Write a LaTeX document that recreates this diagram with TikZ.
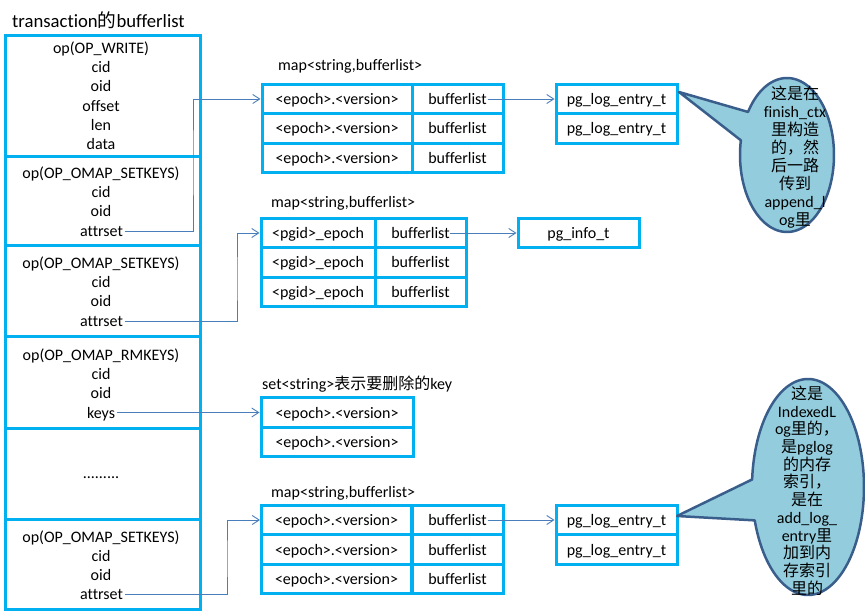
\documentclass[tikz,border=0pt]{standalone}
\usepackage{fontspec}
\setmainfont[Ligatures={NoCommon}]{Carlito}
\newfontfamily\cjk{Noto Sans CJK SC}
\usetikzlibrary{arrows.meta}
\definecolor{boxc}{HTML}{00B0F0}
\definecolor{arrc}{HTML}{4A7EBB}
\definecolor{callfill}{HTML}{93CDDD}
\definecolor{calldraw}{HTML}{3A5E8C}
\newcommand{\tightlines}{\lineskiplimit=-50pt\relax}
\begin{document}
\begin{tikzpicture}[x=1pt,y=-1pt,
  every node/.style={font=\fontsize{16}{19.5}\selectfont},
  cell/.style={draw=boxc, line width=3pt, inner sep=0pt, text height=13pt, text depth=2pt, minimum height=29.5pt},
  sect/.style={draw=boxc, line width=3pt, minimum width=195pt, inner sep=0pt},
  ln/.style={inner sep=2pt, text height=13pt, text depth=2pt},
  lab/.style={anchor=west, inner sep=0pt, text height=13pt, text depth=2pt},
  conn/.style={draw=arrc, line width=0.9pt, -{Straight Barb[length=7pt,width=9pt]}},
  callout/.style={fill=callfill, draw=calldraw, line width=2.5pt, line join=round},
  ctext/.style={align=center, inner sep=0pt, text=black}
]
\useasboundingbox (0,0) rectangle (865,612);

% title
\node[anchor=west, inner sep=0pt, font=\fontsize{18.7}{22}\selectfont] (title) at (12,20) {transaction{\cjk 的}bufferlist};

% left column sections
\node[sect, minimum height=121pt] (s1) at (102.5,96.5) {};
\node[sect, minimum height=89pt] (s2) at (102.5,201.5) {};
\node[sect, minimum height=91pt] (s3) at (102.5,291.5) {};
\node[sect, minimum height=91pt] (s4) at (102.5,382.5) {};
\node[sect, minimum height=91pt] (s5) at (102.5,473.5) {};
\node[sect, minimum height=90pt] (s6) at (102.5,564) {};

% section texts
\node[ln] (s1l1) at (101,48.5) {op(OP\_WRITE)};
\node[ln] (s1l2) at (101,67.5) {cid};
\node[ln] (s1l3) at (101,86.5) {oid};
\node[ln] (s1l4) at (101,106) {offset};
\node[ln] (s1l5) at (101,125.5) {len};
\node[ln] (s1l6) at (101,144.5) {data};

\node[ln] (s2l1) at (101,173.5) {op(OP\_OMAP\_SETKEYS)};
\node[ln] (s2l2) at (101,192.5) {cid};
\node[ln] (s2l3) at (101,211.5) {oid};
\node[ln] (s2l4) at (101.5,231) {attrset};

\node[ln] (s3l1) at (101,263.5) {op(OP\_OMAP\_SETKEYS)};
\node[ln] (s3l2) at (101,282.5) {cid};
\node[ln] (s3l3) at (101,301.5) {oid};
\node[ln] (s3l4) at (101.5,321) {attrset};

\node[ln] (s4l1) at (101,355) {op(OP\_OMAP\_RMKEYS)};
\node[ln] (s4l2) at (101,373.5) {cid};
\node[ln] (s4l3) at (101,392.5) {oid};
\node[ln] (s4l4) at (101,412.5) {keys};

\node[ln] (s5l1) at (101,473) {.........};

\node[ln] (s6l1) at (101,537) {op(OP\_OMAP\_SETKEYS)};
\node[ln] (s6l2) at (101,555.5) {cid};
\node[ln] (s6l3) at (101,574.5) {oid};
\node[ln] (s6l4) at (101.5,594) {attrset};

% map 1
\node[lab] (lab1) at (278,65) {map<string,bufferlist>};
\node[cell, minimum width=150pt] (m1a1) at (337,99) {<epoch>.<version>};
\node[cell, minimum width=91pt] (m1b1) at (457.5,99) {bufferlist};
\node[cell, minimum width=150pt] (m1a2) at (337,128.5) {<epoch>.<version>};
\node[cell, minimum width=91pt] (m1b2) at (457.5,128.5) {bufferlist};
\node[cell, minimum width=150pt] (m1a3) at (337,158) {<epoch>.<version>};
\node[cell, minimum width=91pt] (m1b3) at (457.5,158) {bufferlist};
\node[cell, minimum width=121pt] (p1a) at (616.5,99) {pg\_log\_entry\_t};
\node[cell, minimum width=121pt] (p1b) at (616.5,128.5) {pg\_log\_entry\_t};

% map 2
\node[lab] (lab2) at (271,202) {map<string,bufferlist>};
\node[cell, minimum width=114pt] (m2a1) at (318,233) {<pgid>\_epoch};
\node[cell, minimum width=91pt] (m2b1) at (420.5,233) {bufferlist};
\node[cell, minimum width=114pt] (m2a2) at (318,262.5) {<pgid>\_epoch};
\node[cell, minimum width=91pt] (m2b2) at (420.5,262.5) {bufferlist};
\node[cell, minimum width=114pt] (m2a3) at (318,292) {<pgid>\_epoch};
\node[cell, minimum width=91pt] (m2b3) at (420.5,292) {bufferlist};
\node[cell, minimum width=121pt] (pi) at (578.5,233) {pg\_info\_t};

% set
\node[lab] (lab3) at (262,384) {set<string>{\cjk 表示要删除的}key};
\node[cell, minimum width=152pt] (st1) at (337,412.5) {<epoch>.<version>};
\node[cell, minimum width=152pt] (st2) at (337,442) {<epoch>.<version>};

% map 3
\node[lab] (lab4) at (271,492) {map<string,bufferlist>};
\node[cell, minimum width=150pt] (m3a1) at (336.5,520) {<epoch>.<version>};
\node[cell, minimum width=91pt] (m3b1) at (457.5,520) {bufferlist};
\node[cell, minimum width=150pt] (m3a2) at (336.5,549.5) {<epoch>.<version>};
\node[cell, minimum width=91pt] (m3b2) at (457.5,549.5) {bufferlist};
\node[cell, minimum width=150pt] (m3a3) at (336.5,579) {<epoch>.<version>};
\node[cell, minimum width=91pt] (m3b3) at (457.5,579) {bufferlist};
\node[cell, minimum width=121pt] (p3a) at (616.5,520) {pg\_log\_entry\_t};
\node[cell, minimum width=121pt] (p3b) at (616.5,549.5) {pg\_log\_entry\_t};

% connectors
\coordinate (j1) at (193,160);
\coordinate (j2) at (237,280);
\coordinate (j3) at (227,560);
\draw[conn] (s2l4.east) -| (j1) |- (m1a1.west);
\draw[conn] (s3l4.east) -| (j2) |- (m2a1.west);
\draw[conn] (s4l4.east) -- (st1.west);
\draw[conn] (s6l4.east) -| (j3) |- (m3a1.west);
\draw[conn] ([xshift=-17pt]m1b1.east) -- (p1a.west);
\draw[conn] ([xshift=-17.5pt]m2b1.east) -- (pi.west);
\draw[conn] ([xshift=-17pt]m3b1.east) -- (p3a.west);

% callouts
\coordinate (t1) at (679,92);
\coordinate (t2) at (677,516);
\draw[callout] plot[domain=214:551, samples=120] ({787+47*cos(\x)},{155+77*sin(\x)}) -- (t1) -- cycle;
\draw[callout] plot[domain=184:522, samples=140] ({808+56*cos(\x)},{487+108*sin(\x)}) -- (t2) -- cycle;

\node[ctext, font=\fontsize{16}{18}\selectfont\tightlines] (c1t) at (795,157.5)
  {{\cjk 这是在}\\finish\_ctx\\{\cjk 里构造}\\{\cjk 的，然}\\{\cjk 后一路}\\{\cjk 传到}\\append\_l\\og{\cjk 里}};
\node[ctext, font=\fontsize{16}{17.7}\selectfont\tightlines] (c2t) at (807,490.5)
  {{\cjk 这是}\\IndexedL\\og{\cjk 里的，}\\{\cjk 是}pglog\\{\cjk 的内存}\\{\cjk 索引，}\\{\cjk 是在}\\add\_log\_\\entry{\cjk 里}\\{\cjk 加到内}\\{\cjk 存索引}\\{\cjk 里的}};
\end{tikzpicture}
\end{document}
